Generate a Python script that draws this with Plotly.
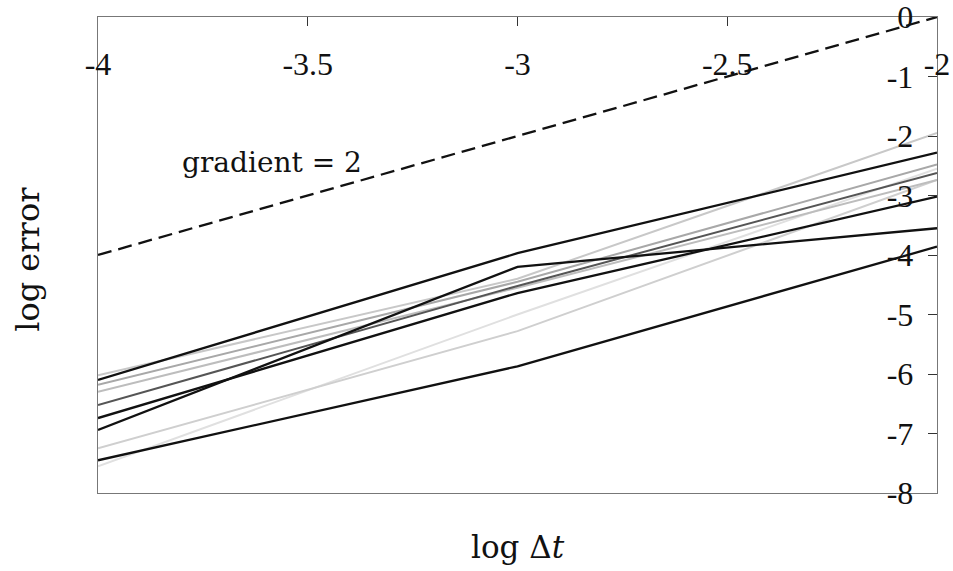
import plotly.graph_objects as go

# log Δt values
log_dt = [-4.0, -3.0, -2.0]

# error curves (log error) at each log Δt
black_series = {
    "A": [-6.10, -3.97, -2.28],
    "B": [-6.94, -4.20, -3.55],
    "C": [-6.74, -4.64, -3.02],
    "D": [-7.45, -5.87, -3.86],
}
gray_series = {
    "E": [-6.52, -4.52, -2.62],
    "G1": [-6.02, -4.40, -1.95],
    "G2": [-6.18, -4.45, -2.48],
    "G3": [-6.30, -4.55, -2.74],
    "G5": [-7.25, -5.28, -2.74],
    "G6": [-7.55, -5.00, -2.55],
}
gray_colors = {"E": "#555555", "G1": "#c8c8c8", "G2": "#a8a8a8", "G3": "#bdbdbd",
               "G5": "#cfcfcf", "G6": "#e0e0e0"}

# reference gradient line
ref_x = [-4.0, -3.0, -2.0]
ref_y = [-4.0, -2.0, 0.0]

x_ticks = [-4, -3.5, -3, -2.5, -2]
x_tick_text = ["-4", "-3.5", "-3", "-2.5", "-2"]
y_ticks = [0, -1, -2, -3, -4, -5, -6, -7, -8]
y_tick_text = ["0", "-1", "-2", "-3", "-4", "-5", "-6", "-7", "-8"]

times = "Liberation Serif, Times New Roman, serif"
school = "DejaVu Serif, serif"

fig = go.Figure()
for k in ["G6", "G5", "G3", "G2", "G1", "E"]:
    fig.add_trace(go.Scatter(x=log_dt, y=gray_series[k], mode="lines",
                             line=dict(color=gray_colors[k], width=2), showlegend=False))
for k, v in black_series.items():
    fig.add_trace(go.Scatter(x=log_dt, y=v, mode="lines",
                             line=dict(color="#111111", width=2.3), showlegend=False))
fig.add_trace(go.Scatter(x=ref_x, y=ref_y, mode="lines",
                         line=dict(color="#111111", width=2.3, dash="14px,7px"), showlegend=False))

fig.add_annotation(x=-3.585, y=-2.45, text="gradient = 2", showarrow=False,
                   font=dict(family=school, size=28, color="#111"))
fig.add_annotation(x=0.5, y=-0.113, xref="paper", yref="paper", xanchor="center",
                   yanchor="middle", text="log Δ<i>t</i>", showarrow=False,
                   font=dict(family=school, size=31, color="#111"))
fig.add_annotation(x=-0.0834, y=0.49, xref="paper", yref="paper", xanchor="center",
                   yanchor="middle", textangle=-90, text="log error", showarrow=False,
                   font=dict(family=school, size=32, color="#111"))

fig.update_layout(
    width=953, height=571,
    margin=dict(l=98, r=16, t=17, b=78),
    paper_bgcolor="white", plot_bgcolor="white",
    xaxis=dict(range=[-4, -2], side="top", tickvals=x_ticks, ticktext=x_tick_text,
               ticks="inside", ticklen=9, tickcolor="#333", ticklabelposition="inside",
               ticklabeloverflow="allow", ticklabelstandoff=30, automargin=False,
               showgrid=False, zeroline=False,
               showline=True, mirror=True, linecolor="#777", linewidth=1.2,
               tickfont=dict(family=times, size=32, color="#111")),
    yaxis=dict(range=[-8, 0], side="right", tickvals=y_ticks, ticktext=y_tick_text,
               ticks="inside", ticklen=9, tickcolor="#333", ticklabelposition="inside",
               ticklabeloverflow="allow", ticklabelstandoff=18, automargin=False,
               showgrid=False, zeroline=False,
               showline=True, mirror=True, linecolor="#777", linewidth=1.2,
               tickfont=dict(family=times, size=32, color="#111")),
)

fig.write_html("out.html")
